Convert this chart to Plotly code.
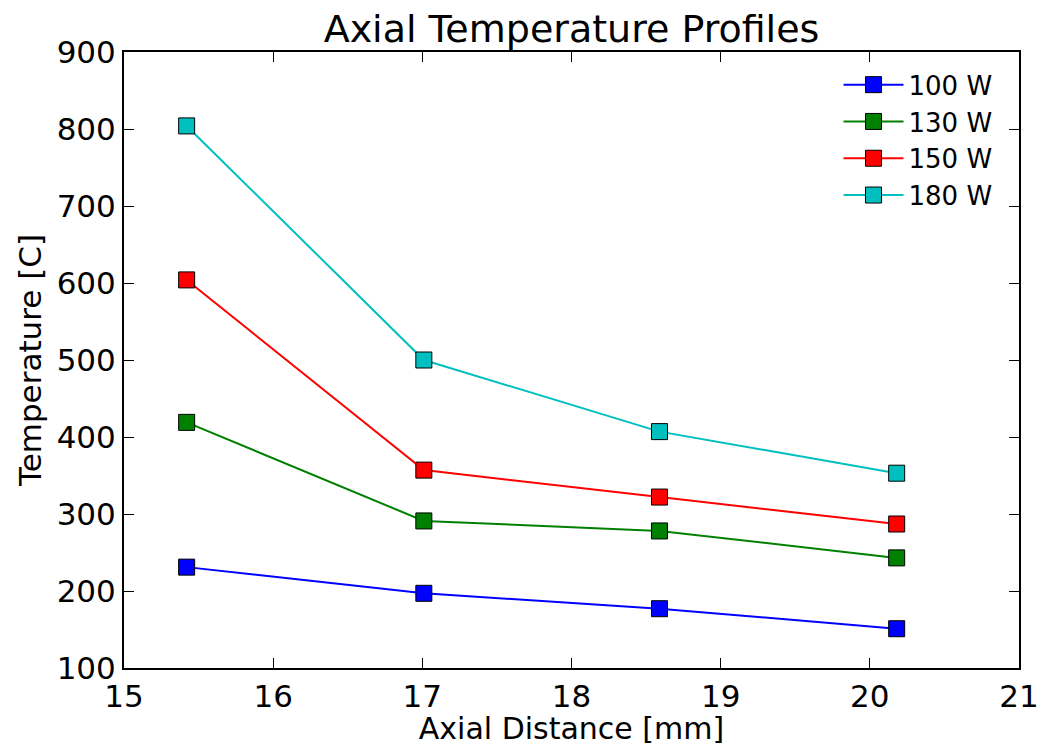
import plotly.graph_objects as go

# Axial positions of the thermocouples [mm]
distance_mm = [15.42, 17.01, 18.59, 20.18]

# Measured temperatures [C] at each heater power
temp_100w = [231, 197, 177, 151]
temp_130w = [419, 291, 278, 243]
temp_150w = [604, 357, 322, 287]
temp_180w = [804, 500, 407, 353]

series = [
    ("100 W", temp_100w, "#0000ff"),
    ("130 W", temp_130w, "#008000"),
    ("150 W", temp_150w, "#ff0000"),
    ("180 W", temp_180w, "#00bfbf"),
]

fig = go.Figure()
for name, temps, color in series:
    fig.add_trace(go.Scatter(
        x=distance_mm, y=temps, name=name, mode="lines+markers",
        line=dict(color=color, width=2),
        marker=dict(symbol="square", size=16, color=color,
                    line=dict(color="black", width=1)),
    ))

font_family = "DejaVu Sans"
axis_common = dict(
    showgrid=False, zeroline=False, automargin=False,
    showline=True, linecolor="black", linewidth=2, mirror="ticks",
    ticks="inside", ticklen=10, tickwidth=1, tickcolor="black",
    tickfont=dict(family=font_family, size=31, color="black"),
)

fig.update_layout(
    width=1044, height=746,
    margin=dict(l=124, r=25, t=52, b=78, autoexpand=False),
    paper_bgcolor="white", plot_bgcolor="white",
    title=dict(text="Axial Temperature Profiles", x=0.5, xanchor="center",
               xref="paper", yref="paper", y=1, yanchor="bottom",
               pad=dict(b=10),
               font=dict(family=font_family, size=38, color="black")),
    xaxis=dict(range=[15, 21], dtick=1,
               title=dict(text="Axial Distance [mm]", standoff=2,
                          font=dict(family=font_family, size=30, color="black")),
               **axis_common),
    yaxis=dict(range=[100, 900], dtick=100,
               title=dict(text="Temperature [C]", standoff=6,
                          font=dict(family=font_family, size=31, color="black")),
               **axis_common),
    legend=dict(x=0.976, y=0.985, xanchor="right", yanchor="top",
                bgcolor="rgba(0,0,0,0)", borderwidth=0,
                itemwidth=60,
                font=dict(family=font_family, size=26, color="black")),
    showlegend=True,
)

fig.write_html("out.html")
